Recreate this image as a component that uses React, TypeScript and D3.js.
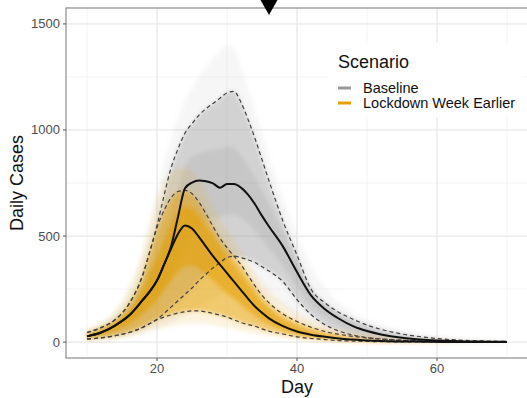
import React from 'react';
import * as d3 from 'd3';

// simulation days (denser around the peak)
const days = [10, 12, 14, 16, 18, 19, 20, 21, 22, 23, 24, 25, 26, 27, 28, 29, 30, 31, 32, 33, 34, 35, 36, 38, 40, 42, 44, 46, 48, 50, 52, 55, 58, 61, 64, 67, 70];

// Baseline scenario: envelope of runs, 2.5/25/50/75/97.5 % quantiles
const baseMin = [8, 12, 18, 28, 42, 52, 62, 75, 90, 108, 125, 145, 165, 185, 205, 225, 240, 250, 250, 245, 235, 220, 200, 160, 115, 75, 48, 30, 19, 12, 8, 4, 2, 1, 1, 0, 0];
const baseLo = [15, 20, 30, 45, 70, 88, 108, 135, 165, 195, 225, 255, 290, 320, 350, 375, 398, 405, 398, 388, 375, 355, 335, 285, 200, 130, 82, 52, 33, 21, 14, 8, 5, 3, 2, 1, 0];
const baseQ25 = [22, 33, 55, 85, 135, 165, 200, 245, 300, 370, 450, 510, 550, 570, 585, 590, 600, 600, 585, 560, 525, 485, 445, 360, 265, 180, 122, 85, 58, 40, 27, 15, 8, 4, 2, 1, 1];
const baseMed = [27, 45, 78, 125, 200, 240, 290, 365, 450, 590, 725, 752, 762, 758, 748, 728, 745, 745, 728, 695, 650, 595, 545, 450, 330, 220, 155, 110, 75, 52, 36, 20, 11, 6, 3, 2, 1];
const baseQ75 = [35, 56, 92, 150, 255, 330, 410, 510, 610, 720, 830, 870, 890, 900, 905, 910, 920, 915, 880, 830, 775, 710, 650, 520, 380, 255, 185, 130, 92, 65, 46, 27, 16, 9, 5, 3, 2];
const baseHi = [45, 68, 105, 180, 320, 430, 550, 690, 820, 910, 985, 1030, 1070, 1100, 1125, 1150, 1175, 1182, 1130, 1050, 960, 860, 760, 570, 410, 250, 185, 140, 108, 80, 60, 38, 24, 14, 8, 5, 3];
const baseMax = [60, 90, 145, 250, 430, 560, 700, 840, 960, 1060, 1140, 1200, 1250, 1300, 1340, 1370, 1400, 1380, 1300, 1200, 1100, 990, 880, 680, 510, 360, 260, 190, 140, 105, 80, 55, 35, 22, 14, 9, 6];

// Lockdown a week earlier
const earlyMin = [8, 12, 18, 28, 42, 52, 62, 70, 77, 82, 86, 88, 88, 85, 80, 74, 68, 60, 53, 46, 40, 34, 29, 20, 13, 9, 6, 4, 3, 2, 1, 1, 0, 0, 0, 0, 0];
const earlyLo = [14, 20, 30, 45, 70, 88, 105, 118, 128, 137, 143, 147, 147, 142, 135, 127, 118, 105, 92, 83, 75, 62, 52, 38, 25, 17, 12, 7, 5, 3, 2, 1, 1, 0, 0, 0, 0];
const earlyQ25 = [22, 33, 55, 85, 135, 165, 200, 245, 290, 330, 355, 360, 345, 320, 290, 260, 232, 205, 178, 150, 125, 103, 85, 57, 37, 25, 17, 11, 8, 5, 3, 2, 1, 1, 0, 0, 0];
const earlyMed = [27, 45, 78, 125, 200, 240, 290, 365, 440, 510, 550, 535, 495, 450, 405, 365, 325, 285, 245, 205, 168, 138, 112, 75, 50, 35, 25, 17, 12, 8, 5, 3, 2, 1, 1, 0, 0];
const earlyQ75 = [35, 56, 92, 150, 255, 330, 400, 480, 560, 615, 640, 630, 595, 550, 500, 450, 405, 360, 318, 275, 230, 190, 158, 108, 75, 52, 37, 26, 18, 13, 9, 5, 3, 2, 1, 1, 0];
const earlyHi = [45, 68, 105, 180, 320, 430, 540, 620, 680, 710, 715, 700, 660, 605, 545, 490, 445, 405, 365, 315, 265, 220, 185, 132, 97, 70, 50, 37, 27, 20, 15, 9, 6, 4, 2, 1, 1];
const earlyMax = [60, 90, 145, 250, 430, 560, 680, 760, 800, 820, 820, 800, 760, 700, 640, 580, 530, 480, 430, 380, 330, 285, 245, 185, 140, 105, 80, 60, 45, 34, 26, 17, 11, 7, 5, 3, 2];

const xTicks = [20, 40, 60];
const xMinor = [10, 30, 50, 70];
const yTicks = [0, 500, 1000, 1500];
const yMinor = [250, 750, 1250];
const legendLabels = ['Baseline', 'Lockdown Week Earlier'];
const legendColors = ['#999999', '#E69F00'];
const markerDay = 36;

const W = 527;
const H = 398;
const panel = { left: 66, top: 8, right: 528, bottom: 358 };
const font = '"Liberation Sans", Arial, Helvetica, sans-serif';

export default function App() {
  const x = d3.scaleLinear().domain([7, 73]).range([panel.left, panel.right]);
  const y = d3.scaleLinear().domain([-75, 1575]).range([panel.bottom, panel.top]);

  const band = (lo: number[], hi: number[]) =>
    d3
      .area<number>()
      .x((d) => x(d))
      .y0((_, i) => y(lo[i]))
      .y1((_, i) => y(hi[i]))
      .curve(d3.curveMonotoneX)(days) || '';

  const line = (vals: number[]) =>
    d3
      .line<number>()
      .x((d) => x(d))
      .y((_, i) => y(vals[i]))
      .curve(d3.curveMonotoneX)(days) || '';

  const scenarios = [
    { color: legendColors[0], min: baseMin, lo: baseLo, q25: baseQ25, med: baseMed, q75: baseQ75, hi: baseHi, max: baseMax, op: [0.09, 0.38, 0.22] },
    { color: legendColors[1], min: earlyMin, lo: earlyLo, q25: earlyQ25, med: earlyMed, q75: earlyQ75, hi: earlyHi, max: earlyMax, op: [0.13, 0.5, 0.55] },
  ];

  const mx = x(markerDay);

  return (
    <svg width={W} height={H} style={{ position: 'absolute', left: 0, top: 0, background: '#fff' }} fontFamily={font}>
      <defs>
        <clipPath id="panel">
          <rect x={panel.left} y={panel.top} width={panel.right - panel.left} height={panel.bottom - panel.top} />
        </clipPath>
        <filter id="soft" x="-5%" y="-5%" width="110%" height="110%">
          <feGaussianBlur stdDeviation={2.2} />
        </filter>
      </defs>
      <rect x={0} y={0} width={W} height={H} fill="#fff" />

      {/* grid */}
      <g clipPath="url(#panel)">
        {yMinor.map((v) => (
          <line key={'ym' + v} x1={panel.left} x2={panel.right} y1={y(v)} y2={y(v)} stroke="#f0f0f0" strokeWidth={0.8} />
        ))}
        {xMinor.map((v) => (
          <line key={'xm' + v} y1={panel.top} y2={panel.bottom} x1={x(v)} x2={x(v)} stroke="#f0f0f0" strokeWidth={0.8} />
        ))}
        {yTicks.map((v) => (
          <line key={'y' + v} x1={panel.left} x2={panel.right} y1={y(v)} y2={y(v)} stroke="#e8e8e8" strokeWidth={1.3} />
        ))}
        {xTicks.map((v) => (
          <line key={'x' + v} y1={panel.top} y2={panel.bottom} x1={x(v)} x2={x(v)} stroke="#e8e8e8" strokeWidth={1.3} />
        ))}
      </g>

      {/* legend background hides grid */}
      <rect x={328} y={43} width={194} height={74} fill="#fff" />

      {/* simulation runs as density bands */}
      <g clipPath="url(#panel)">
        <g filter="url(#soft)">
          {scenarios.map((s, k) => (
            <g key={'b' + k} fill={s.color}>
              <path d={band(s.min, s.max)} fillOpacity={s.op[0]} />
              <path d={band(s.lo, s.hi)} fillOpacity={s.op[1]} />
              <path d={band(s.q25, s.q75)} fillOpacity={s.op[2]} />
            </g>
          ))}
        </g>
        {scenarios.map((s, k) => (
          <g key={'d' + k} fill="none" stroke="#404040" strokeWidth={1.2} strokeDasharray="4,3">
            <path d={line(s.lo)} />
            <path d={line(s.hi)} />
          </g>
        ))}
        {scenarios.map((s, k) => (
          <path key={'m' + k} d={line(s.med)} fill="none" stroke="#111" strokeWidth={2} />
        ))}
      </g>

      {/* panel border */}
      <rect x={panel.left} y={panel.top} width={panel.right - panel.left} height={panel.bottom - panel.top} fill="none" stroke="#8c8c8c" strokeWidth={1.2} />

      {/* axes */}
      {yTicks.map((v) => (
        <g key={'yt' + v}>
          <line x1={panel.left - 3} x2={panel.left} y1={y(v)} y2={y(v)} stroke="#555" />
          <text x={panel.left - 6} y={y(v) + 4.5} textAnchor="end" fontSize={13} fill="#4d4d4d">
            {v}
          </text>
        </g>
      ))}
      {xTicks.map((v) => (
        <g key={'xt' + v}>
          <line x1={x(v)} x2={x(v)} y1={panel.bottom} y2={panel.bottom + 3} stroke="#555" />
          <text x={x(v)} y={panel.bottom + 15} textAnchor="middle" fontSize={13} fill="#4d4d4d">
            {v}
          </text>
        </g>
      ))}
      <text x={x(40)} y={393} textAnchor="middle" fontSize={18} fill="#111">
        Day
      </text>
      <text transform={`translate(23, ${(panel.top + panel.bottom) / 2}) rotate(-90)`} textAnchor="middle" fontSize={18} fill="#111">
        Daily Cases
      </text>

      {/* legend */}
      <text x={338} y={68} fontSize={18} fill="#111">
        Scenario
      </text>
      {legendLabels.map((l, i) => (
        <g key={l}>
          <line x1={338} x2={351} y1={88 + i * 15} y2={88 + i * 15} stroke={legendColors[i]} strokeWidth={3} />
          <text x={363} y={93 + i * 15} fontSize={14.5} fill="#111">
            {l}
          </text>
        </g>
      ))}

      {/* marker above the panel */}
      <path d={`M${mx - 8.5},0 L${mx + 8.5},0 L${mx},15 Z`} fill="#000" />
    </svg>
  );
}
